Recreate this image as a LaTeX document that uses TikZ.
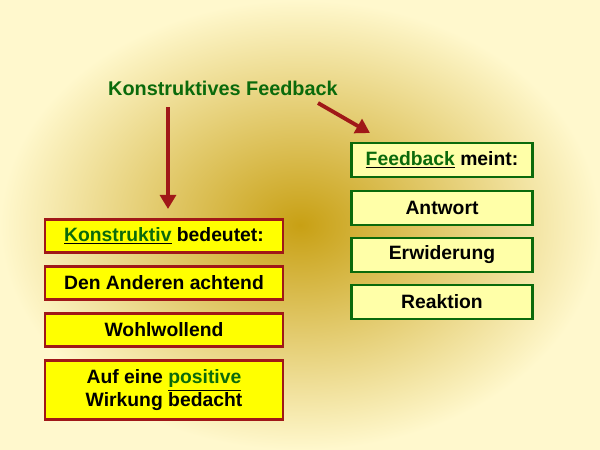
\documentclass[tikz,border=0pt]{standalone}
\usepackage{fontspec}
\setmainfont{Liberation Sans}
\usetikzlibrary{positioning,arrows.meta}
\definecolor{dgreen}{HTML}{0B6A0B}
\definecolor{dred}{HTML}{A01818}
\definecolor{boxyel}{HTML}{FFFF00}
\definecolor{boxlight}{HTML}{FFFFA8}
\definecolor{bgbase}{RGB}{240,225,160}
\definecolor{bgin}{RGB}{200,160,20}
\definecolor{bgout}{RGB}{255,248,205}
\tikzset{
  lbox/.style={draw=dred,line width=1.6pt,fill=boxyel,minimum width=4.76cm,minimum height=0.66cm,font=\bfseries\fontsize{11}{13}\selectfont,align=center},
  rbox/.style={draw=dgreen,line width=1.6pt,fill=boxlight,minimum width=3.62cm,minimum height=0.68cm,font=\bfseries\fontsize{11}{13}\selectfont},
  arr/.style={-{Triangle[length=8pt,width=9pt]},draw=dred,line width=2.2pt}
}
\newcommand{\uline}[1]{\underline{\color{dgreen}#1}}
\begin{document}
\begin{tikzpicture}[x=0.02cm,y=-0.02cm]
  \useasboundingbox (0,0) rectangle (600,450);
  \fill[bgbase] (0,0) rectangle (600,450);
  \shade[inner color=bgin,outer color=bgout] (0,0) rectangle (600,450);
  \node[font=\bfseries\fontsize{11.3}{13}\selectfont,text=dgreen] (title) at (223,88) {Konstruktives Feedback};
  % left column
  \node[lbox] (k) at (164,236) {\uline{Konstruktiv} bedeutet:};
  \node[lbox] (l1) at (164,283) {Den Anderen achtend};
  \node[lbox] (l2) at (164,330) {Wohlwollend};
  \node[lbox,minimum height=1.18cm,inner sep=1pt] (l3) at (164,390) {Auf eine \uline{positive}\\Wirkung bedacht};
  % right column
  \node[rbox] (f) at (442,160) {\uline{Feedback} meint:};
  \node[rbox] (r1) at (442,208) {Antwort};
  \node[rbox] (r2) at (442,255) {Erwiderung};
  \node[rbox] (r3) at (442,302) {Reaktion};
  % arrows
  \coordinate (a1) at (168,107);
  \coordinate (a2) at (318,103);
  \draw[arr] (a1) -- (168,209);
  \draw[arr] (a2) -- (370,133);
\end{tikzpicture}
\end{document}
